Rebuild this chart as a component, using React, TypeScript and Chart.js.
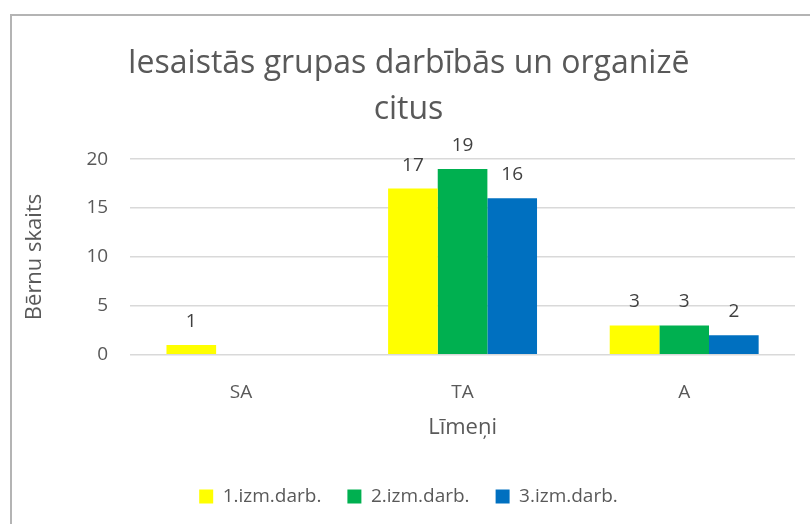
import React, { useEffect, useRef } from "react";
import { Chart, registerables } from "chart.js";

Chart.register(...registerables);

const categories = ["SA", "TA", "A"];
const series1 = [1, 17, 3];
const series2 = [null, 19, 3];
const series3 = [null, 16, 2];
const seriesNames = ["1.izm.darb.", "2.izm.darb.", "3.izm.darb."];
const seriesColors = ["#FFFF00", "#00B050", "#0070C0"];
const titleLines = ["Iesaistās grupas darbībās un organizē", "citus"];
const yTitle = "Bērnu skaits";
const xTitle = "Līmeņi";

const FONT = "'Open Sans', 'Noto Sans', sans-serif";

const valueLabels = {
  id: "valueLabels",
  afterDatasetsDraw(chart: any) {
    const ctx = chart.ctx;
    ctx.save();
    ctx.font = `19px ${FONT}`;
    ctx.fillStyle = "#404040";
    ctx.textAlign = "center";
    ctx.textBaseline = "alphabetic";
    chart.data.datasets.forEach((ds: any, i: number) => {
      const meta = chart.getDatasetMeta(i);
      meta.data.forEach((el: any, j: number) => {
        const v = ds.data[j];
        if (v === null || v === undefined) return;
        ctx.fillText(String(v), el.x, el.y - 18);
      });
    });
    ctx.restore();
  },
};

export default function App() {
  const ref = useRef<HTMLCanvasElement>(null);
  useEffect(() => {
    if (!ref.current) return;
    const chart = new Chart(ref.current, {
      type: "bar",
      data: {
        labels: categories,
        datasets: [series1, series2, series3].map((d, i) => ({
          label: seriesNames[i],
          data: d,
          backgroundColor: seriesColors[i],
          borderWidth: 0,
          categoryPercentage: 0.672,
          barPercentage: 1,
        })),
      },
      options: {
        animation: false,
        responsive: false,
        layout: { padding: { left: 22, right: 15, top: 0, bottom: 8 } },
        plugins: {
          title: {
            display: true,
            text: titleLines,
            color: "#595959",
            font: { family: FONT, size: 32, weight: "normal", lineHeight: 1.44 },
            padding: { top: 41, bottom: 26 },
          },
          legend: {
            position: "bottom",
            labels: {
              boxWidth: 14,
              boxHeight: 14,
              color: "#595959",
              font: { family: FONT, size: 19 },
              padding: 26,
            },
          },
          tooltip: { enabled: false },
        },
        scales: {
          x: {
            grid: { display: false, drawTicks: false },
            border: { display: false },
            ticks: { color: "#595959", font: { family: FONT, size: 19 }, padding: 26 },
            title: {
              display: true,
              text: xTitle,
              color: "#595959",
              font: { family: FONT, size: 22 },
              padding: { top: -15, bottom: 20 },
            },
          },
          y: {
            min: 0,
            max: 20,
            ticks: { stepSize: 5, color: "#595959", font: { family: FONT, size: 19 }, padding: 22 },
            grid: { color: "#d9d9d9", lineWidth: 1.5, drawTicks: false },
            border: { display: false },
            title: {
              display: true,
              text: yTitle,
              color: "#595959",
              font: { family: FONT, size: 22 },
              padding: { top: 0, bottom: 16 },
            },
          },
        },
      },
      plugins: [valueLabels],
    });
    return () => chart.destroy();
  }, []);
  return (
    <div style={{ position: "fixed", left: 0, top: 0, width: 810, height: 524, background: "#fff" }}>
      <div
        style={{
          position: "absolute",
          left: 10,
          top: 14,
          width: 820,
          height: 540,
          border: "2px solid #b4b4b4",
          boxSizing: "border-box",
        }}
      />
      <canvas ref={ref} width={810} height={524} style={{ position: "absolute", left: 0, top: 0 }} />
    </div>
  );
}
